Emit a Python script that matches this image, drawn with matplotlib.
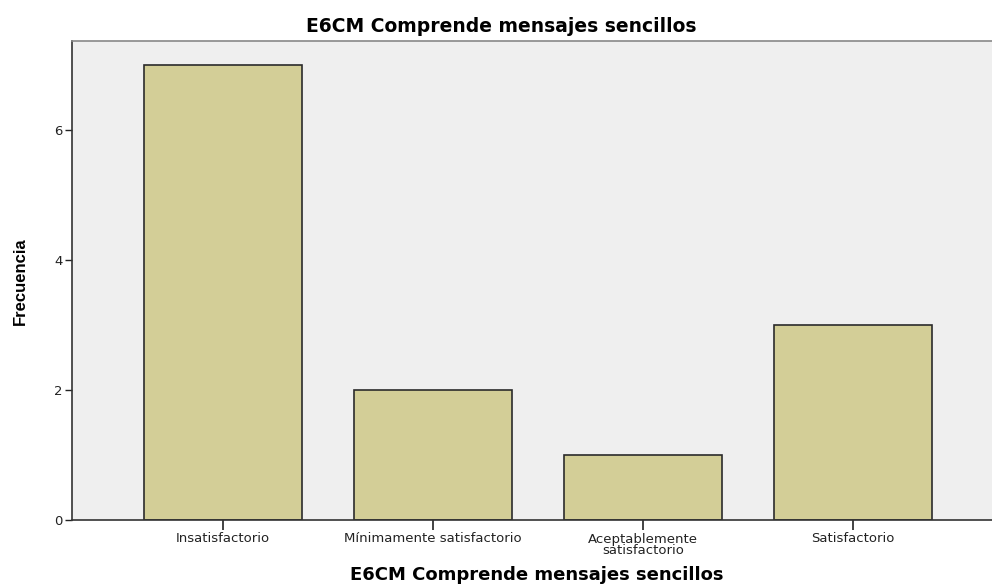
import matplotlib
matplotlib.use("Agg")
import matplotlib.pyplot as plt
from matplotlib import font_manager

categories = ["Insatisfactorio", "Mínimamente satisfactorio", "Aceptablemente\nsatisfactorio", "Satisfactorio"]
frecuencia = [7, 2, 1, 3]
yticks = [0, 2, 4, 6]
title = "E6CM Comprende mensajes sencillos"

names = {f.name for f in font_manager.fontManager.ttflist}
narrow = "Liberation Sans Narrow" if "Liberation Sans Narrow" in names else "Liberation Sans"
plt.rcParams['font.family'] = ['DejaVu Sans']

W, H = 992, 587
fig = plt.figure(figsize=(W/100, H/100), dpi=100)
ax = fig.add_axes([72/W, 1-520/H, (992-72)/W, (520-41)/H])
ax.set_facecolor("#EFEFEF")
x = list(range(len(categories)))
ax.bar(x, frecuencia, width=0.752, color="#D3CE97", edgecolor="#2b2b2b", linewidth=1.2, zorder=2)
ax.set_xlim(-0.719, 3.662)
ax.set_ylim(0, 7.37)
ax.set_yticks(yticks)
ax.set_yticklabels([str(v) for v in yticks], fontsize=9.5)
ax.set_xticks(x)
ax.set_xticklabels(categories, fontsize=9.5, linespacing=0.82)
ax.tick_params(axis='y', length=5, width=1, pad=2, colors="#222222")
ax.tick_params(axis='x', length=7, width=1.2, pad=2, colors="#222222")
for s in ["left", "bottom", "top"]:
    ax.spines[s].set_color("#333333")
    ax.spines[s].set_linewidth(1.2)
ax.spines["top"].set_color("#888888")
ax.spines["right"].set_visible(False)

fig.text(501/W, 1-26/H, title, fontsize=13.5, fontweight='bold', ha='center', va='center')
fig.text(537/W, 1-575/H, title, fontsize=13, fontweight='bold', ha='center', va='center')
fig.text(20/W, 1-281/H, "Frecuencia", fontsize=12, fontweight='bold', rotation=90, ha='center', va='center', family=[narrow, 'DejaVu Sans'])

fig.savefig("out.png", dpi=100)
